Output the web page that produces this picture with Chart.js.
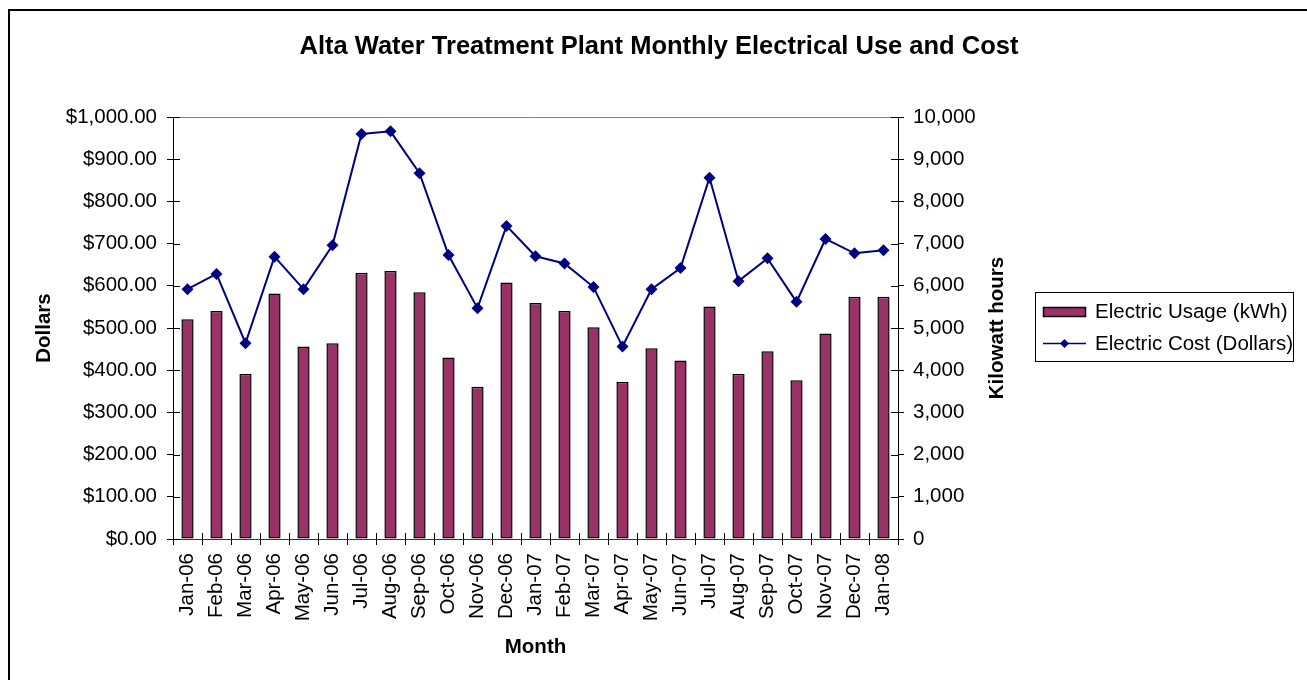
<!DOCTYPE html>
<html>
<head>
<meta charset="utf-8">
<title>Alta Water Treatment Plant Monthly Electrical Use and Cost</title>
<script src="https://cdn.jsdelivr.net/npm/chart.js@4.4.1/dist/chart.umd.min.js"></script>
<style>
  html, body { margin: 0; padding: 0; background: #fff; overflow: hidden; }
  #wrap { position: relative; width: 1307px; height: 680px; }
</style>
</head>
<body>
<div id="wrap"><canvas id="usageChart" width="1307" height="680"></canvas></div>
<script>
/* ── data ─────────────────────────────────────────────── */
const months = [
  'Jan-06', 'Feb-06', 'Mar-06', 'Apr-06', 'May-06', 'Jun-06', 'Jul-06', 'Aug-06', 'Sep-06',
  'Oct-06', 'Nov-06', 'Dec-06', 'Jan-07', 'Feb-07', 'Mar-07', 'Apr-07', 'May-07', 'Jun-07',
  'Jul-07', 'Aug-07', 'Sep-07', 'Oct-07', 'Nov-07', 'Dec-07', 'Jan-08'
];
const usageKwh = [
  5210, 5400, 3910, 5820, 4560, 4640, 6310, 6350, 5850,
  4300, 3610, 6080, 5590, 5400, 5020, 3720, 4520, 4230,
  5510, 3910, 4450, 3760, 4870, 5740, 5740
];
const costDollars = [
  592, 628, 464, 669, 592, 696, 960, 966, 867,
  673, 547, 742, 670, 653, 597, 456, 592, 642,
  856, 611, 665, 562, 711, 677, 684
];
const dollarTicks = { min: 0, max: 1000, step: 100 };
const kwhTicks = { min: 0, max: 10000, step: 1000 };

const FONT = "'Liberation Sans', Arial, sans-serif";
const PLUM = '#993366';
const NAVY = '#000080';

/* ── extra drawing: frame, cross ticks, right title, legend ── */
const extras = {
  id: 'extras',
  beforeDraw(chart) {
    const ctx = chart.ctx;
    ctx.save();
    ctx.fillStyle = '#fff';
    ctx.fillRect(0, 0, chart.width, chart.height);
    ctx.strokeStyle = '#000';
    ctx.lineWidth = 2;
    ctx.strokeRect(9, 10, 1400, 800);
    ctx.restore();
  },
  afterDraw(chart) {
    const ctx = chart.ctx;
    const area = chart.chartArea;
    const x = chart.scales.x, yL = chart.scales.yCost, yR = chart.scales.yKwh;
    ctx.save();

    // plot area top edge
    ctx.strokeStyle = '#808080';
    ctx.lineWidth = 1;
    ctx.beginPath();
    ctx.moveTo(area.left, Math.round(area.top) + 0.5);
    ctx.lineTo(area.right, Math.round(area.top) + 0.5);
    ctx.stroke();

    // inner halves of the cross ticks
    ctx.strokeStyle = '#000';
    ctx.beginPath();
    yL.ticks.forEach(t => {
      const py = Math.round(yL.getPixelForValue(t.value)) + 0.5;
      ctx.moveTo(area.left, py); ctx.lineTo(area.left + 7, py);
    });
    yR.ticks.forEach(t => {
      const py = Math.round(yR.getPixelForValue(t.value)) + 0.5;
      ctx.moveTo(area.right, py); ctx.lineTo(area.right - 7, py);
    });
    for (let i = 1; i < months.length; i++) {
      const px = Math.round(x.getPixelForValue(i - 0.5)) + 0.5;
      ctx.moveTo(px, area.bottom); ctx.lineTo(px, area.bottom - 6);
    }
    ctx.stroke();

    // right axis title (reads bottom to top)
    ctx.fillStyle = '#000';
    ctx.font = 'bold 20.5px ' + FONT;
    ctx.textAlign = 'center';
    ctx.textBaseline = 'middle';
    ctx.translate(997, (area.top + area.bottom) / 2);
    ctx.rotate(-Math.PI / 2);
    ctx.fillText('Kilowatt hours', 0, 0);
    ctx.setTransform(1, 0, 0, 1, 0, 0);

    // legend
    const lx = 1035, ly = 292, lw = 258, lh = 69;
    ctx.strokeStyle = '#000';
    ctx.lineWidth = 1;
    ctx.strokeRect(lx + 0.5, ly + 0.5, lw, lh);
    const [barDs, lineDs] = chart.data.datasets;
    ctx.font = '20.5px ' + FONT;
    ctx.textAlign = 'left';
    ctx.textBaseline = 'middle';

    ctx.fillStyle = barDs.backgroundColor;
    ctx.fillRect(1043, 307, 43, 10);
    ctx.lineWidth = 1.5;
    ctx.strokeRect(1043.5, 307.5, 42, 9);
    ctx.fillStyle = '#000';
    ctx.fillText(barDs.label, 1095, 312);

    ctx.strokeStyle = lineDs.borderColor;
    ctx.lineWidth = 1.5;
    ctx.beginPath();
    ctx.moveTo(1043, 343.5); ctx.lineTo(1086, 343.5);
    ctx.stroke();
    ctx.fillStyle = lineDs.borderColor;
    ctx.beginPath();
    ctx.moveTo(1064.5 - 4.5, 343.5); ctx.lineTo(1064.5, 339);
    ctx.lineTo(1064.5 + 4.5, 343.5); ctx.lineTo(1064.5, 348);
    ctx.closePath(); ctx.fill();
    ctx.fillStyle = '#000';
    ctx.fillText(lineDs.label, 1095, 344);

    ctx.restore();
  }
};

/* ── chart ─────────────────────────────────────────────── */
const tickFont = { family: FONT, size: 20.5 };
const axisTitleFont = { family: FONT, size: 20.5, weight: 'bold' };

new Chart(document.getElementById('usageChart'), {
  type: 'bar',
  data: {
    labels: months,
    datasets: [
      {
        label: 'Electric Usage (kWh)',
        data: usageKwh,
        yAxisID: 'yKwh',
        backgroundColor: PLUM,
        borderColor: '#000',
        borderWidth: 1.5,
        borderSkipped: false,
        categoryPercentage: 1.0,
        barPercentage: 0.42,
        order: 2
      },
      {
        label: 'Electric Cost (Dollars)',
        type: 'line',
        data: costDollars,
        yAxisID: 'yCost',
        borderColor: NAVY,
        backgroundColor: NAVY,
        borderWidth: 2,
        tension: 0,
        pointStyle: 'rectRot',
        pointRadius: 6,
        pointBorderWidth: 0,
        pointBackgroundColor: NAVY,
        order: 1
      }
    ]
  },
  options: {
    responsive: false,
    animation: false,
    devicePixelRatio: 1,
    layout: { padding: { left: 11, right: 0, top: 0, bottom: 0 } },
    plugins: {
      legend: { display: false },
      tooltip: { enabled: false },
      title: {
        display: true,
        text: 'Alta Water Treatment Plant Monthly Electrical Use and Cost',
        color: '#000',
        font: { family: FONT, size: 25.5, weight: 'bold', lineHeight: 1.2 },
        padding: { top: 32, bottom: 54.4 }
      }
    },
    scales: {
      x: {
        offset: true,
        grid: { offset: true, drawOnChartArea: false, drawTicks: true, tickLength: 6, color: '#000' },
        border: { display: true, color: '#333', width: 1 },
        ticks: { color: '#000', font: tickFont, minRotation: 90, maxRotation: 90, autoSkip: false, padding: 8 },
        title: { display: true, text: 'Month', color: '#000', font: axisTitleFont, padding: { top: 0, bottom: 20 } },
        afterFit(scale) { scale.height = 141; }
      },
      yCost: {
        position: 'left',
        min: dollarTicks.min,
        max: dollarTicks.max,
        ticks: {
          stepSize: dollarTicks.step,
          color: '#000',
          font: tickFont,
          padding: 10,
          callback: v => '$' + Number(v).toLocaleString('en-US', { minimumFractionDigits: 2, maximumFractionDigits: 2 })
        },
        grid: { drawOnChartArea: false, drawTicks: true, tickLength: 6, color: '#000' },
        border: { display: true, color: '#000', width: 1 },
        title: { display: true, text: 'Dollars', color: '#000', font: axisTitleFont, padding: { top: 21, bottom: 0 } },
        afterFit(scale) { scale.width = 162; }
      },
      yKwh: {
        position: 'right',
        min: kwhTicks.min,
        max: kwhTicks.max,
        ticks: {
          stepSize: kwhTicks.step,
          color: '#000',
          font: tickFont,
          padding: 9,
          callback: v => Number(v).toLocaleString('en-US')
        },
        grid: { drawOnChartArea: false, drawTicks: true, tickLength: 6, color: '#000' },
        border: { display: true, color: '#000', width: 1 },
        title: { display: false },
        afterFit(scale) { scale.width = 409; }
      }
    }
  },
  plugins: [extras]
});
</script>
</body>
</html>
